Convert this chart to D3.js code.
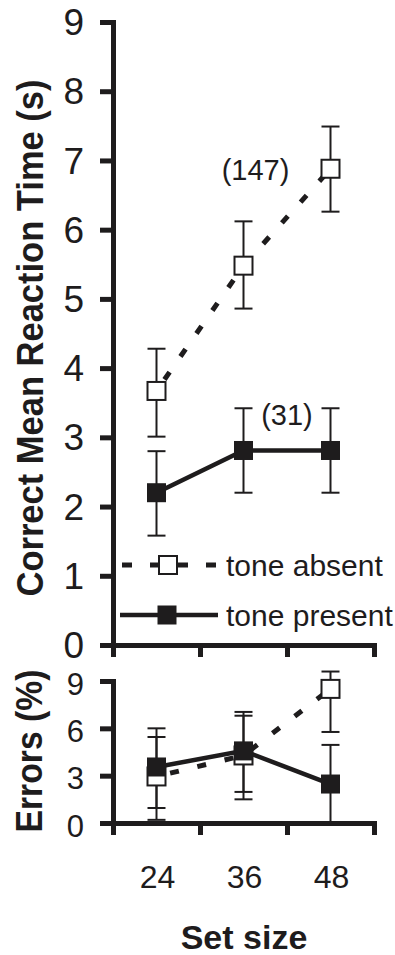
<!DOCTYPE html>
<html>
<head>
<meta charset="utf-8">
<script src="https://cdn.jsdelivr.net/npm/d3@7"></script>
<style>
  body { margin: 0; background: #fff; }
  svg { display: block; }
  text { font-family: "Liberation Sans", Arial, sans-serif; fill: #1e1c1d; }
</style>
</head>
<body>
<svg id="chart" width="395" height="955"></svg>
<script>
// set sizes on the x axis
const setSizes = ["24", "36", "48"];
const rtTicks = [0, 1, 2, 3, 4, 5, 6, 7, 8, 9];
const errTicks = [0, 3, 6, 9];

// correct mean reaction time (s), with error bar ends
const rtAbsent = [3.67, 5.48, 6.88];
const rtAbsentLo = [3.01, 4.86, 6.26];
const rtAbsentHi = [4.28, 6.12, 7.49];
const rtPresent = [2.20, 2.81, 2.81];
const rtPresentLo = [1.58, 2.20, 2.20];
const rtPresentHi = [2.80, 3.42, 3.42];

// errors (%), with error bar ends
const errAbsent = [2.95, 4.28, 8.5];
const errAbsentLo = [0.2, 1.5, 5.77];
const errAbsentHi = [5.45, 6.8, 9.6];
const errPresent = [3.55, 4.57, 2.47];
const errPresentLo = [0.95, 1.97, -0.1];
const errPresentHi = [6.0, 7.04, 4.95];

const ink = "#1e1c1d";
const svg = d3.select("#chart");

const x = d3.scaleBand().domain(setSizes).range([113, 374]).padding(0);
const xEdge = d3.scaleLinear().domain([0, setSizes.length]).range(x.range());
const cx = d => x(d) + x.bandwidth() / 2;

const yTop = d3.scaleLinear().domain([0, 9]).range([645, 22]);
const yBot = d3.scaleLinear().domain([0, 9]).range([823, 681]);

function rows(mean, lo, hi) {
  return setSizes.map((s, i) => ({ s: s, v: mean[i], lo: lo[i], hi: hi[i] }));
}

function drawPanel(y, ticks, labelSize, labelDy, absent, present) {
  const g = svg.append("g");

  // axes
  const ya = g.append("g")
    .attr("transform", "translate(113,0)")
    .call(d3.axisLeft(y).tickValues(ticks).tickSize(13).tickSizeOuter(0).tickPadding(16));
  ya.select(".domain").attr("stroke-linecap", "square");
  ya.selectAll("text").style("font-size", labelSize + "px").attr("dy", labelDy);

  const xa = g.append("g")
    .attr("transform", "translate(0," + y(0) + ")")
    .call(d3.axisBottom(xEdge).tickValues(d3.range(setSizes.length + 1)).tickSize(12).tickSizeOuter(0).tickFormat(""));
  xa.select(".domain").attr("stroke-linecap", "square");

  g.selectAll(".domain, .tick line").attr("stroke", ink).attr("stroke-width", 5);
  g.selectAll(".tick text").attr("fill", ink);

  // error bars
  const all = absent.concat(present);
  const eb = g.selectAll(".eb").data(all).enter().append("g").attr("class", "eb")
    .attr("stroke", ink).attr("stroke-width", 2);
  eb.append("line")
    .attr("x1", d => cx(d.s)).attr("x2", d => cx(d.s))
    .attr("y1", d => y(d.lo)).attr("y2", d => y(d.hi));
  eb.append("line")
    .attr("x1", d => cx(d.s) - 9).attr("x2", d => cx(d.s) + 9)
    .attr("y1", d => y(d.hi)).attr("y2", d => y(d.hi));
  eb.append("line")
    .attr("x1", d => cx(d.s) - 9).attr("x2", d => cx(d.s) + 9)
    .attr("y1", d => y(d.lo)).attr("y2", d => y(d.lo));

  const line = d3.line().x(d => cx(d.s)).y(d => y(d.v));

  // tone absent: dashed line, open squares
  g.append("path").datum(absent).attr("d", line)
    .attr("fill", "none").attr("stroke", ink).attr("stroke-width", 5)
    .attr("stroke-dasharray", "9,19").attr("stroke-dashoffset", -14);
  g.selectAll(".open").data(absent).enter().append("rect").attr("class", "open")
    .attr("x", d => cx(d.s) - 9).attr("y", d => y(d.v) - 9)
    .attr("width", 18).attr("height", 18)
    .attr("fill", "#fff").attr("stroke", ink).attr("stroke-width", 2);

  // tone present: solid line, filled squares
  g.append("path").datum(present).attr("d", line)
    .attr("fill", "none").attr("stroke", ink).attr("stroke-width", 4.5);
  g.selectAll(".filled").data(present).enter().append("rect").attr("class", "filled")
    .attr("x", d => cx(d.s) - 9.5).attr("y", d => y(d.v) - 9.5)
    .attr("width", 19).attr("height", 19)
    .attr("fill", ink);

  return g;
}

const rtPanel = drawPanel(yTop, rtTicks, 37, "0.34em",
  rows(rtAbsent, rtAbsentLo, rtAbsentHi), rows(rtPresent, rtPresentLo, rtPresentHi));
const errPanel = drawPanel(yBot, errTicks, 31, "0.42em",
  rows(errAbsent, errAbsentLo, errAbsentHi), rows(errPresent, errPresentLo, errPresentHi));

// number annotations
rtPanel.append("text").attr("x", cx("48") - 75).attr("y", yTop(rtAbsent[2]) + 11)
  .attr("text-anchor", "middle").style("font-size", "29px").text("(147)");
rtPanel.append("text").attr("x", (cx("36") + cx("48")) / 2).attr("y", yTop(rtPresentHi[1]) + 17)
  .attr("text-anchor", "middle").style("font-size", "29px").text("(31)");

// legend
const leg = rtPanel.append("g");
leg.append("line").attr("x1", 122).attr("x2", 218).attr("y1", 565).attr("y2", 565)
  .attr("stroke", ink).attr("stroke-width", 5).attr("stroke-dasharray", "10,18");
leg.append("rect").attr("x", 159).attr("y", 556).attr("width", 18).attr("height", 18)
  .attr("fill", "#fff").attr("stroke", ink).attr("stroke-width", 2);
leg.append("text").attr("x", 226).attr("y", 576).style("font-size", "30px").text("tone absent");
leg.append("line").attr("x1", 120).attr("x2", 218).attr("y1", 615).attr("y2", 615)
  .attr("stroke", ink).attr("stroke-width", 4.5);
leg.append("rect").attr("x", 157.5).attr("y", 605.5).attr("width", 19).attr("height", 19)
  .attr("fill", ink);
leg.append("text").attr("x", 226).attr("y", 626).style("font-size", "30px").text("tone present");

// x tick labels
svg.selectAll(".xlab").data(setSizes).enter().append("text").attr("class", "xlab")
  .attr("x", d => cx(d) + 1).attr("y", 888)
  .attr("text-anchor", "middle").style("font-size", "32px").text(d => d);

// axis titles
svg.append("text").attr("transform", "translate(43,338) rotate(-90)")
  .attr("text-anchor", "middle").style("font-size", "37px").style("font-weight", "bold")
  .attr("textLength", 517).attr("lengthAdjust", "spacingAndGlyphs")
  .text("Correct Mean Reaction Time (s)");
svg.append("text").attr("transform", "translate(42,751) rotate(-90)")
  .attr("text-anchor", "middle").style("font-size", "37px").style("font-weight", "bold")
  .attr("textLength", 163).attr("lengthAdjust", "spacingAndGlyphs")
  .text("Errors (%)");
svg.append("text").attr("x", 244).attr("y", 949)
  .attr("text-anchor", "middle").style("font-size", "34px").style("font-weight", "bold")
  .text("Set size");
</script>
</body>
</html>
